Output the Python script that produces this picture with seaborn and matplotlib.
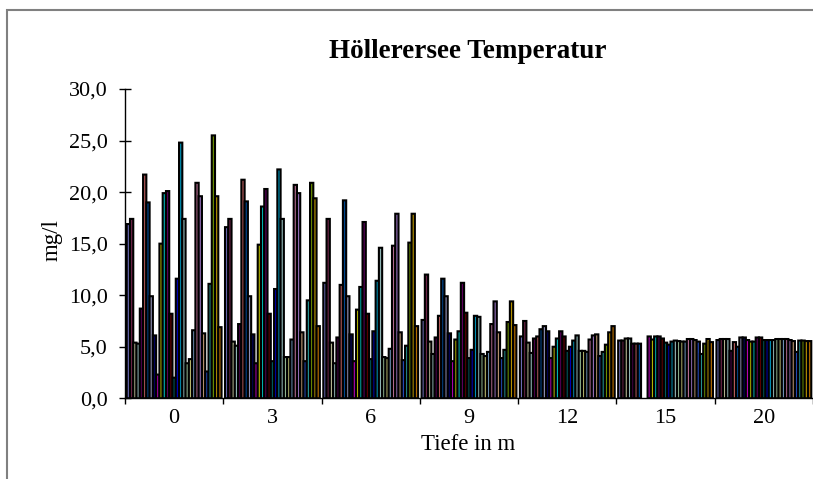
import numpy as np
import pandas as pd
import matplotlib
matplotlib.use('Agg')
import matplotlib.pyplot as plt
from matplotlib.colors import to_rgb
from matplotlib.patches import Rectangle
from matplotlib.ticker import FuncFormatter
import seaborn as sns

# depths (categories) and one value list per depth, 29 measurement dates each
depths = ['0', '3', '6', '9', '12', '15', '20']
series = [str(i + 1) for i in range(29)]

t_0m = [16.9, 17.4, 5.4, 5.3, 8.7, 21.7, 19.0, 9.9, 6.1, 2.3, 15.0, 19.9, 20.1, 8.2, 2.0,
        11.6, 24.8, 17.4, 3.4, 3.8, 6.6, 20.9, 19.6, 6.3, 2.6, 11.1, 25.5, 19.6, 6.9]
t_3m = [16.6, 17.4, 5.5, 5.1, 7.2, 21.2, 19.1, 9.9, 6.2, 3.4, 14.9, 18.6, 20.3, 8.2, 3.6,
        10.6, 22.2, 17.4, 4.0, 4.0, 5.7, 20.7, 19.9, 6.4, 3.6, 9.5, 20.9, 19.4, 7.0]
t_6m = [11.2, 17.4, 5.4, 3.4, 5.9, 11.0, 19.2, 9.9, 6.2, 3.6, 8.6, 10.8, 17.1, 8.2, 3.8,
        6.5, 11.4, 14.6, 4.0, 3.9, 4.8, 14.8, 17.9, 6.4, 3.7, 5.1, 15.1, 17.9, 7.0]
t_9m = [7.6, 12.0, 5.5, 4.3, 5.9, 8.0, 11.6, 9.9, 6.3, 3.6, 5.7, 6.5, 11.2, 8.3, 3.9,
        4.7, 8.0, 7.9, 4.3, 4.1, 4.5, 7.2, 9.4, 6.4, 3.9, 4.7, 7.4, 9.4, 7.1]
t_12m = [6.0, 7.5, 5.4, 4.4, 5.8, 6.0, 6.7, 7.0, 6.5, 3.9, 5.0, 5.8, 6.5, 6.0, 4.6,
         5.0, 5.6, 6.1, 4.6, 4.6, 4.5, 5.7, 6.1, 6.2, 4.1, 4.5, 5.2, 6.4, 7.0]
t_15m = [5.6, 5.6, 5.8, 5.8, 5.3, 5.3, 5.3, np.nan, np.nan, 6.0, 5.7, 6.0, 6.0, 5.8, 5.4,
         5.2, 5.5, 5.6, 5.55, 5.5, 5.5, 5.75, 5.75, 5.65, 5.5, 4.3, 5.3, 5.75, 5.45]
t_20m = [5.65, 5.75, 5.75, 5.75, 4.6, 5.45, 5.0, 5.9, 5.9, 5.65, 5.5, 5.5, 5.9, 5.9, 5.65,
         5.65, 5.65, 5.65, 5.75, 5.75, 5.75, 5.75, 5.65, 5.55, 4.5, 5.6, 5.6, 5.55, 5.55]

# old excel series colours
colors = ['#9999FF', '#993366', '#FFFFCC', '#CCFFFF', '#660066', '#FF8080', '#0066CC',
          '#CCCCFF', '#000080', '#FF00FF', '#FFFF00', '#00FFFF', '#800080', '#800000',
          '#008080', '#0000FF', '#00CCFF', '#CCFFFF', '#CCFFCC', '#FFFF99', '#99CCFF',
          '#FF99CC', '#CC99FF', '#FFCC99', '#3366FF', '#33CCCC', '#99CC00', '#FFCC00',
          '#FF9900']
# the thin bars look much darker in the original, so dim the fills a bit
dimmed = [tuple(0.7 * c for c in to_rgb(col)) for col in colors]

rows = []
for d, vals in zip(depths, [t_0m, t_3m, t_6m, t_9m, t_12m, t_15m, t_20m]):
    for s, v in zip(series, vals):
        rows.append({'depth': d, 'serie': s, 'temp': v})
df = pd.DataFrame(rows)

sns.set_style('white')
plt.rcParams['font.family'] = ['Liberation Serif', 'DejaVu Serif']
plt.rcParams['text.color'] = 'black'
plt.rcParams['xtick.color'] = 'black'
plt.rcParams['ytick.color'] = 'black'

fig = plt.figure(figsize=(8.13, 4.79), dpi=100)
ax = fig.add_axes([125 / 813, 1 - 398.3 / 479, 688 / 813, (398.3 - 89) / 479])

sns.barplot(data=df, x='depth', y='temp', hue='serie', order=depths, hue_order=series,
            palette=dimmed, saturation=1, width=0.965, errorbar=None,
            edgecolor='black', linewidth=1.5, snap=False, legend=False, ax=ax)

ax.set_ylim(0, 30)
ax.set_xlim(-0.5, 6.5)
ax.set_yticks(np.arange(0, 31, 5))
ax.yaxis.set_major_formatter(FuncFormatter(lambda v, p: f'{v:.1f}'.replace('.', ',')))
ax.tick_params(axis='y', direction='inout', length=9, width=1, pad=8, labelsize=16, left=True)
ax.set_xticks(range(len(depths)))
ax.set_xticklabels(depths)
ax.tick_params(axis='x', which='major', length=0, pad=8, labelsize=16)
ax.set_xticks(np.arange(-0.5, 7, 1), minor=True)
ax.tick_params(axis='x', which='minor', direction='out', length=4.5, width=1, bottom=True)
ax.set_xlabel('')
ax.set_ylabel('')
for side in ['top', 'right']:
    ax.spines[side].set_visible(False)
for side in ['left', 'bottom']:
    ax.spines[side].set_color('black')
    ax.spines[side].set_linewidth(1)

fig.text(468 / 813, 1 - 52 / 479, 'Höllerersee Temperatur', ha='center', va='center',
         fontsize=19.5, fontweight='bold')
fig.text(468 / 813, 1 - 445 / 479, 'Tiefe in m', ha='center', va='center', fontsize=16.5)
fig.text(52 / 813, 1 - 240 / 479, 'mg/l', ha='center', va='center', rotation=90, fontsize=16.5)

# chart area frame, cut off at right and bottom like the original
fig.patches.append(Rectangle((7 / 813, -0.2), 1.2, 1.2 - 10 / 479, transform=fig.transFigure,
                             fill=False, edgecolor='#808080', linewidth=1.5))

fig.savefig('out.png', dpi=100)
